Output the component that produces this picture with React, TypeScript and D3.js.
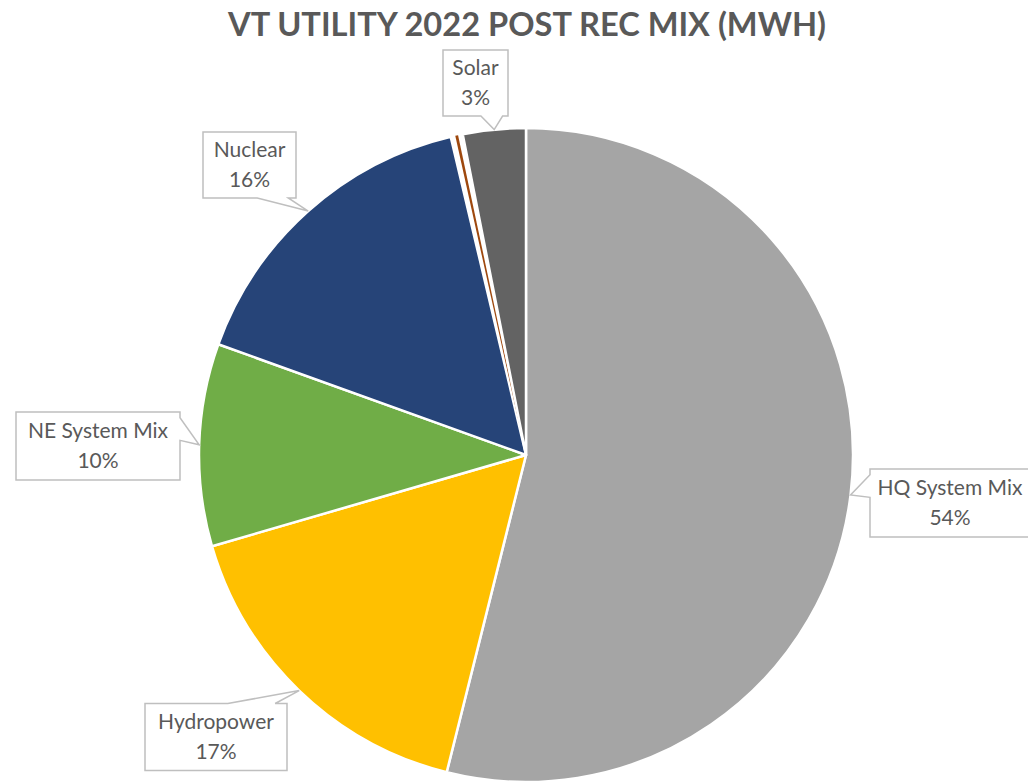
import React from 'react';
import * as d3 from 'd3';

// 2022 post-REC mix, share of MWh (%)
const categories = ['HQ System Mix', 'Hydropower', 'NE System Mix', 'Nuclear', 'Other', 'Solar'];
const shares = [53.9, 16.6, 10.0, 15.8, 0.6, 3.1];
const colors = ['#a5a5a5', '#ffc000', '#70ad47', '#264478', '#9e480e', '#636363'];
const title = 'VT UTILITY 2022 POST REC MIX (MWH)';

// callout boxes: center x, center y, width, height (null = no label)
const callouts = [
  [950, 503, 160, 68],
  [216, 737, 142, 67],
  [98, 446, 164, 68],
  [249.5, 165, 93, 66],
  null,
  [475.5, 83, 65, 66],
];

const W = 1028;
const H = 783;
const cx = 526;
const cy = 455;
const R = 327;

const calloutPath = (bx, by, w, h, tx, ty) => {
  const x0 = bx - w / 2, x1 = bx + w / 2, y0 = by - h / 2, y1 = by + h / 2;
  const dx = (tx - bx) / w, dy = (ty - by) / h;
  const pts = [];
  if (Math.abs(dx) > Math.abs(dy)) {
    const a = ty >= by ? y0 + h * 7 / 12 : y0 + h / 12;
    const b = ty >= by ? y0 + h * 11 / 12 : y0 + h * 5 / 12;
    if (dx < 0) {
      pts.push([x0, y0], [x1, y0], [x1, y1], [x0, y1], [x0, b], [tx, ty], [x0, a]);
    } else {
      pts.push([x0, y0], [x1, y0], [x1, a], [tx, ty], [x1, b], [x1, y1], [x0, y1]);
    }
  } else {
    const a = tx >= bx ? x0 + w * 7 / 12 : x0 + w / 12;
    const b = tx >= bx ? x0 + w * 11 / 12 : x0 + w * 5 / 12;
    if (dy < 0) {
      pts.push([x0, y0], [a, y0], [tx, ty], [b, y0], [x1, y0], [x1, y1], [x0, y1]);
    } else {
      pts.push([x0, y0], [x1, y0], [x1, y1], [b, y1], [tx, ty], [a, y1], [x0, y1]);
    }
  }
  return 'M' + pts.map((p) => p.join(',')).join('L') + 'Z';
};

export default function App() {
  const pie = d3.pie<number>().sort(null).value((d) => d);
  const arcs = pie(shares);
  const arc = d3.arc().innerRadius(0).outerRadius(R);
  const tipArc = d3.arc().innerRadius(R).outerRadius(R);
  const font = 'Lato, "Open Sans", sans-serif';

  return (
    <svg
      width={W}
      height={H}
      style={{ position: 'absolute', left: 0, top: 0, display: 'block', background: '#fff' }}
    >
      <text
        x={527}
        y={36}
        textAnchor="middle"
        fontFamily={font}
        fontWeight="bold"
        fontSize={32}
        fill="#595959"
        textLength={598}
        lengthAdjust="spacingAndGlyphs"
      >
        {title}
      </text>
      <g transform={`translate(${cx},${cy})`}>
        {arcs.map((a, i) => {
          const tiny = !callouts[i];
          return (
            <path
              key={categories[i]}
              // the tiny unlabelled slice shows only as a hairline in the original
              d={arc(tiny ? { ...a, padAngle: 0.029 } : a)}
              fill={colors[i]}
              stroke={tiny ? 'none' : '#fff'}
              strokeWidth={2.5}
              strokeLinejoin="round"
            />
          );
        })}
      </g>
      {arcs.map((a, i) => {
        const c = callouts[i];
        if (!c) return null;
        const [bx, by, w, h] = c;
        const [tx0, ty0] = tipArc.centroid(a);
        const tx = tx0 + cx, ty = ty0 + cy;
        return (
          <g key={'l' + i}>
            <path d={calloutPath(bx, by, w, h, tx, ty)} fill="#fff" stroke="#bfbfbf" strokeWidth={1.5} />
            <text textAnchor="middle" fontFamily={font} fontSize={21} fill="#595959">
              <tspan x={bx} y={by - 8}>{categories[i]}</tspan>
              <tspan x={bx} y={by + 22}>{Math.round(shares[i]) + '%'}</tspan>
            </text>
          </g>
        );
      })}
    </svg>
  );
}
